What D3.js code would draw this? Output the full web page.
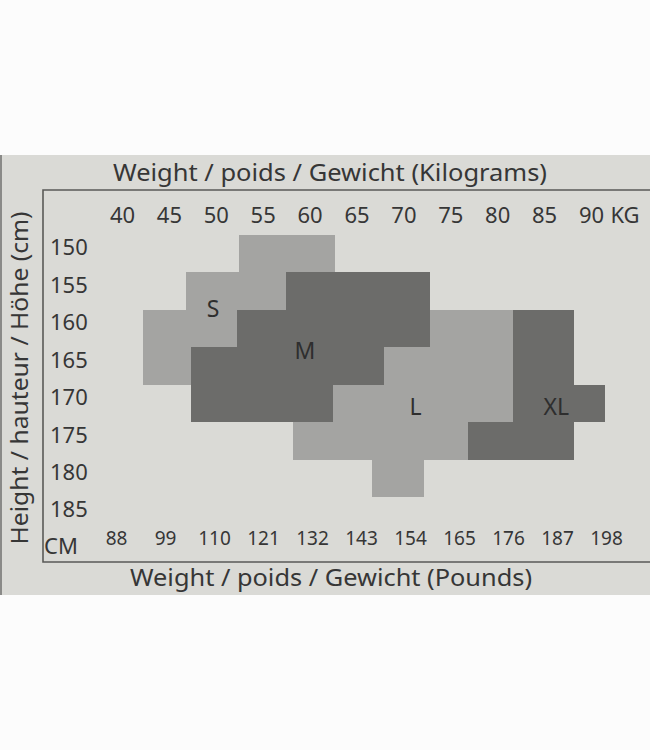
<!DOCTYPE html>
<html>
<head>
<meta charset="utf-8">
<script src="https://cdn.jsdelivr.net/npm/d3@7/dist/d3.min.js"></script>
<style>
  body { margin: 0; background: #fcfcfc; }
  svg { display: block; }
  text { font-family: "Noto Sans", "Open Sans", sans-serif; fill: #363636; }
</style>
</head>
<body>
<svg id="chart" width="650" height="750"></svg>
<script>
// ---- data ----
const kgTicks = [40, 45, 50, 55, 60, 65, 70, 75, 80, 85, 90];
const lbTicks = [88, 99, 110, 121, 132, 143, 154, 165, 176, 187, 198];
const cmTicks = [150, 155, 160, 165, 170, 175, 180, 185];
const sizes = ["S", "M", "L", "XL"];
// blocks: [kgFrom, kgTo, cmFrom, cmTo]
const sBlocks  = [[52.5, 62.7, 150, 155], [46.8, 57.5, 155, 160], [42.2, 52.3, 160, 170]];
const mBlocks  = [[57.5, 72.8, 155, 160], [52.3, 72.8, 160, 165], [47.4, 67.9, 165, 170], [47.4, 62.5, 170, 175]];
const lBlocks  = [[72.8, 81.7, 160, 165], [67.9, 81.7, 165, 170], [62.5, 81.7, 170, 175], [58.2, 76.9, 175, 180], [66.7, 72.2, 180, 185]];
const xlBlocks = [[81.7, 88.2, 160, 180], [88.2, 91.5, 170, 175], [76.9, 88.2, 175, 180]];
const labelKg = [49.7, 59.5, 71.3, 86.3];
const labelCm = [159.8, 165.4, 172.9, 173.0];

const titleTop = "Weight / poids / Gewicht (Kilograms)";
const titleBottom = "Weight / poids / Gewicht (Pounds)";
const titleLeft = "Height / hauteur / Höhe (cm)";

// ---- drawing ----
const svg = d3.select("#chart");
const x = d3.scaleLinear().domain([40, 90]).range([122, 591]);
const y = d3.scaleLinear().domain([150, 185]).range([235, 497]);
const lb = d3.scaleLinear().domain([88, 198]).range([116, 606]);
const shade = d3.scaleOrdinal().domain(sizes).range(["#a4a4a2", "#6c6c6a", "#a4a4a2", "#6c6c6a"]);

// card
svg.append("rect").attr("x", 0).attr("y", 155).attr("width", 650).attr("height", 440).attr("fill", "#dadad6");
svg.append("rect").attr("x", 0).attr("y", 155).attr("width", 2).attr("height", 440).attr("fill", "#8a8a88");

// frame
svg.append("path")
  .attr("d", `M650,190 H43 V562 H650`)
  .attr("fill", "none").attr("stroke", "#5a5a58").attr("stroke-width", 1.6);

// blocks
const allBlocks = [sBlocks, mBlocks, lBlocks, xlBlocks];
allBlocks.forEach((blocks, i) => {
  svg.append("g").selectAll("rect").data(blocks).join("rect")
    .attr("x", d => x(d[0]))
    .attr("y", d => y(d[2]))
    .attr("width", d => x(d[1]) - x(d[0]))
    .attr("height", d => y(d[3]) - y(d[2]))
    .attr("fill", shade(sizes[i]))
    .attr("shape-rendering", "crispEdges");
});

// size labels
svg.append("g").selectAll("text").data(sizes).join("text")
  .attr("x", (d, i) => x(labelKg[i]))
  .attr("y", (d, i) => y(labelCm[i]))
  .attr("dy", "0.36em")
  .attr("text-anchor", "middle")
  .attr("font-size", 23)
  .style("fill", "#2e2e2e")
  .text(d => d);

// kg axis (top)
const gTop = svg.append("g").attr("transform", "translate(0,215)")
  .call(d3.axisTop(x).tickValues(kgTicks).tickSize(0).tickPadding(0));
gTop.select(".domain").remove();
gTop.selectAll("text").attr("y", 0).attr("dy", "0.36em")
  .attr("font-size", 22).attr("font-family", null).attr("fill", null);
svg.append("text").attr("x", 625).attr("y", 215).attr("dy", "0.36em")
  .attr("text-anchor", "middle").attr("font-size", 22).text("KG");

// cm axis (left)
const gLeft = svg.append("g").attr("transform", "translate(50,12)")
  .call(d3.axisLeft(y).tickValues(cmTicks).tickSize(0).tickPadding(0));
gLeft.select(".domain").remove();
gLeft.selectAll("text").attr("x", 0).attr("dy", "0.36em").attr("text-anchor", "start")
  .attr("font-size", 22).attr("font-family", null).attr("fill", null);
svg.append("text").attr("x", 44).attr("y", y(190) + 12).attr("dy", "0.36em")
  .attr("font-size", 22).text("CM");

// lb axis (bottom)
const gBot = svg.append("g").attr("transform", "translate(0,538)")
  .call(d3.axisBottom(lb).tickValues(lbTicks).tickSize(0).tickPadding(0));
gBot.select(".domain").remove();
gBot.selectAll("text").attr("y", 0).attr("dy", "0.36em")
  .attr("font-size", 19).attr("font-family", null).attr("fill", null);

// titles
svg.append("text").attr("x", 330).attr("y", 172).attr("dy", "0.36em")
  .attr("text-anchor", "middle").attr("font-size", 24)
  .attr("textLength", 434).attr("lengthAdjust", "spacingAndGlyphs").text(titleTop);
svg.append("text").attr("x", 331).attr("y", 577).attr("dy", "0.36em")
  .attr("text-anchor", "middle").attr("font-size", 24)
  .attr("textLength", 402).attr("lengthAdjust", "spacingAndGlyphs").text(titleBottom);
svg.append("text").attr("transform", "translate(20,378) rotate(-90)").attr("dy", "0.36em")
  .attr("text-anchor", "middle").attr("font-size", 23)
  .attr("textLength", 333).attr("lengthAdjust", "spacingAndGlyphs").text(titleLeft);
</script>
</body>
</html>
